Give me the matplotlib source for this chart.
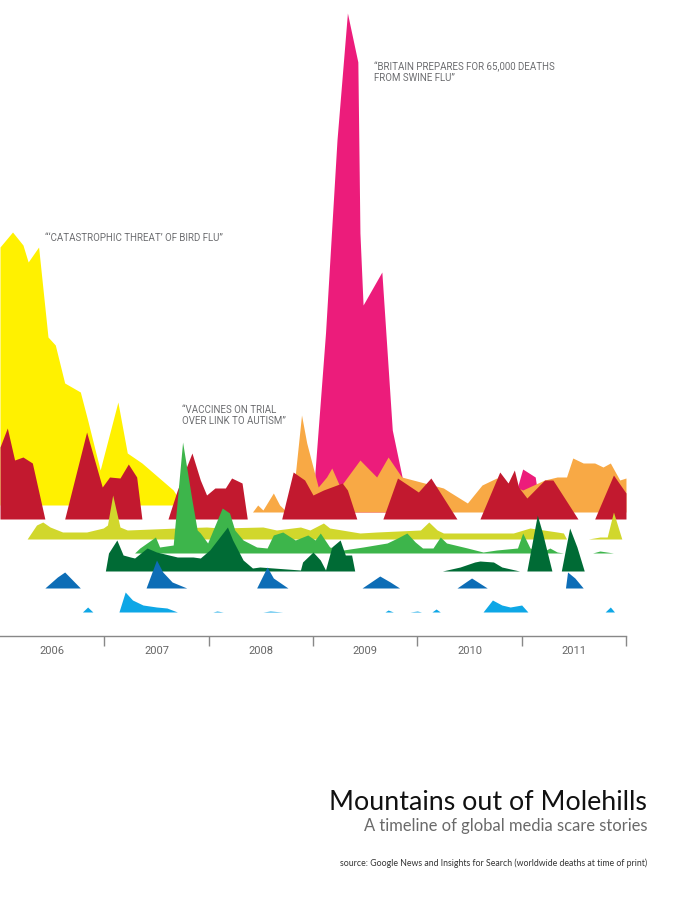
import matplotlib.pyplot as plt

# time = years since 1 Jan 2006, value = amount of coverage (arbitrary units)
bird_flu_t = [0, .12, .22, .27, .37, .46, .53, .62, .77, .84, .96, 1.13, 1.22, 1.36, 1.66, 1.71, 1.74]
bird_flu_v = [258, 273, 260, 243, 258, 168, 160, 122, 113, 85, 35, 103, 52, 42, 15, 7, 0]

swine_flu_t = [2.99, 3.12, 3.23, 3.33, 3.43, 3.45, 3.48, 3.66, 3.76, 3.86, 3.93, 4.90, 4.96, 5.01, 5.13, 5.18]
swine_flu_v = [0, 179, 372, 499, 450, 279, 207, 240, 82, 32, 0, 0, 25, 43, 35, 0]

orange_t = [2.42, 2.47, 2.52, 2.62, 2.68, 2.73, 2.80, 2.89, 2.94, 3.00, 3.05, 3.13, 3.18, 3.26,
            3.45, 3.61, 3.72, 3.85, 4.25, 4.31, 4.48, 4.62, 4.76, 5.01, 5.22, 5.34, 5.43, 5.49,
            5.59, 5.70, 5.78, 5.85, 5.94, 6.00]
orange_v = [0, 7, 2, 19, 7, 2, 7, 97, 69, 45, 25, 35, 44, 25,
            52, 35, 55, 35, 24, 20, 9, 27, 34, 22, 32, 35, 35, 54,
            49, 49, 45, 49, 32, 34]

red_t = [0, .07, .14, .22, .31, .43,
         .62, .83, .98, 1.05, 1.15, 1.23, 1.31, 1.36,
         1.61, 1.70, 1.84, 1.92, 1.98, 2.06, 2.16, 2.22, 2.32, 2.37,
         2.70, 2.81, 2.92, 3.00, 3.10, 3.28, 3.33, 3.42,
         3.67, 3.81, 4.01, 4.13, 4.38,
         4.60, 4.79, 4.87, 4.93, 4.97, 5.05, 5.22, 5.30, 5.54,
         5.70, 5.88, 6.00]
red_v = [72, 91, 59, 62, 56, 0,
         0, 87, 32, 42, 41, 55, 42, 0,
         0, 29, 66, 39, 24, 31, 31, 41, 36, 0,
         0, 47, 39, 24, 29, 36, 29, 0,
         0, 41, 27, 41, 0,
         0, 47, 36, 49, 32, 21, 39, 39, 0,
         0, 44, 26]

lime_t = [.26, .35, .41, .48, .60, .83, .99, 1.03, 1.08, 1.15, 1.22, 1.70, 1.98, 2.11, 2.52,
          2.65, 2.88, 2.97, 3.10, 3.16, 3.45, 3.61, 4.03, 4.11, 4.19, 4.25, 4.57, 4.92, 5.08,
          5.34, 5.40, 5.43, 5.64, 5.75, 5.82, 5.88, 5.96]
lime_v = [0, 14, 17, 12, 7, 7, 11, 14, 44, 12, 9, 11, 12, 11, 12,
          9, 12, 9, 16, 11, 6, 7, 9, 17, 9, 6, 6, 6, 11,
          7, 6, 0, 0, 2, 2, 27, 0]

green_t = [1.29, 1.34, 1.49, 1.53, 1.66, 1.75, 1.84, 1.89, 1.92, 1.99, 2.13, 2.20, 2.25, 2.33,
           2.46, 2.56, 2.62, 2.71, 2.83, 2.95, 3.02, 3.07, 3.16, 3.29, 3.48, 3.71, 3.81, 3.90,
           3.98, 4.05, 4.15, 4.22, 4.28, 4.48, 4.63, 4.76, 4.96, 5.01, 5.08, 5.20, 5.27, 5.34,
           5.40, 5.68, 5.75, 5.88]
green_v = [0, 5, 16, 6, 8, 111, 53, 23, 20, 10, 45, 40, 23, 13,
           6, 5, 18, 21, 13, 18, 13, 20, 6, 3, 6, 10, 15, 20,
           11, 5, 5, 16, 10, 5, 1, 3, 5, 20, 5, 1, 5, 1,
           0, 0, 2, 0]

dkgreen_t = [1.01, 1.04, 1.12, 1.18, 1.25, 1.29, 1.41, 1.50, 1.70, 1.85, 1.92, 2.01, 2.18, 2.23,
             2.33, 2.42, 2.49, 2.88, 2.90, 3.00, 3.07, 3.12, 3.18, 3.26, 3.31, 3.37, 3.40,
             4.24, 4.41, 4.55, 4.60, 4.73, 4.81, 4.98, 5.05, 5.15, 5.20, 5.29, 5.38, 5.46,
             5.53, 5.60]
dkgreen_v = [0, 18, 31, 16, 14, 13, 23, 19, 14, 14, 13, 21, 44, 31,
             11, 3, 4, 1, 9, 19, 11, 1, 24, 31, 16, 16, 0,
             0, 4, 9, 10, 9, 4, 0, 0, 56, 38, 0, 0, 43,
             24, 0]

blue_t = [.43, .55, .62, .77, 1.40, 1.50, 1.56, 1.65, 1.79, 2.46, 2.56, 2.62, 2.76,
          3.47, 3.64, 3.74, 3.83, 4.38, 4.52, 4.67, 5.42, 5.44, 5.51, 5.59]
blue_v = [0, 11, 16, 0, 0, 28, 16, 6, 0, 0, 21, 10, 0,
          0, 12, 6, 0, 0, 10, 0, 0, 16, 10, 0]

ltblue_t = [.79, .84, .89, 1.14, 1.20, 1.27, 1.37, 1.50, 1.60, 1.70, 2.04, 2.08, 2.14,
            2.52, 2.59, 2.71, 3.69, 3.72, 3.77, 3.93, 4.00, 4.04, 4.14, 4.18, 4.22,
            4.63, 4.72, 4.81, 4.89, 5.00, 5.06, 5.80, 5.85, 5.89]
ltblue_v = [0, 5, 0, 0, 20, 12, 7, 5, 4, 0, 0, 1, 0,
            0, 1, 0, 0, 2, 0, 0, 1, 0, 0, 3, 0,
            0, 12, 7, 5, 7, 0, 0, 5, 0]

years = [2006, 2007, 2008, 2009, 2010, 2011]

fig = plt.figure(figsize=(6.94, 9.0), dpi=100)
ax = fig.add_axes([0, 0, 1, 1])
px_year = 104.33
ax.set_xlim(2006, 2006 + 694 / px_year)
ax.set_ylim(900, 0)
ax.axis('off')


def mountain(t, v, base, color):
    x = [2006 + a for a in t]
    top = [base - b for b in v]
    ax.fill_between(x, base, top, color=color, linewidth=0)


mountain(bird_flu_t, bird_flu_v, 505, '#fff100')
mountain(swine_flu_t, swine_flu_v, 512, '#ec1c7b')
mountain(orange_t, orange_v, 512, '#f8a945')
mountain(red_t, red_v, 519, '#c2192f')
mountain(lime_t, lime_v, 539, '#d1d72c')
mountain(green_t, green_v, 553, '#3db54b')
mountain(dkgreen_t, dkgreen_v, 571, '#006b35')
mountain(blue_t, blue_v, 588, '#0d6db6')
mountain(ltblue_t, ltblue_v, 612, '#0ea7e6')

# timeline
ax.plot([2006, 2012], [636, 636], color='#888888', lw=1)
ax.vlines([y + 1 for y in years], 636, 646, color='#888888', lw=1)
for y in years:
    ax.text(y + 0.5, 651, str(y), ha='center', va='center', fontsize=8,
            color='#666666', family='Roboto')

note = dict(ha='left', va='top', fontsize=7, color='#6d6e71', family='Roboto', linespacing=1.1)
ax.text(2006 + 374 / px_year, 62, '\u201cBRITAIN PREPARES FOR 65,000 DEATHS\nFROM SWINE FLU\u201d', **note)
ax.text(2006 + 45 / px_year, 233, '\u201c\u2018CATASTROPHIC THREAT\u2019 OF BIRD FLU\u201d', **note)
ax.text(2006 + 182 / px_year, 405, '\u201cVACCINES ON TRIAL\nOVER LINK TO AUTISM\u201d', **note)

fig.text(647 / 694, 1 - 803 / 900, 'Mountains out of Molehills', ha='right', va='center',
         fontsize=19.3, color='#111111', family='Lato')
fig.text(647 / 694, 1 - 826 / 900, 'A timeline of global media scare stories', ha='right', va='center',
         fontsize=11.9, color='#6a6a6a', family='Lato')
fig.text(647 / 694, 1 - 863 / 900,
         'source: Google News and Insights for Search (worldwide deaths at time of print)',
         ha='right', va='center', fontsize=6.3, color='#333333', family='Lato')

plt.savefig('out.png', dpi=100)
